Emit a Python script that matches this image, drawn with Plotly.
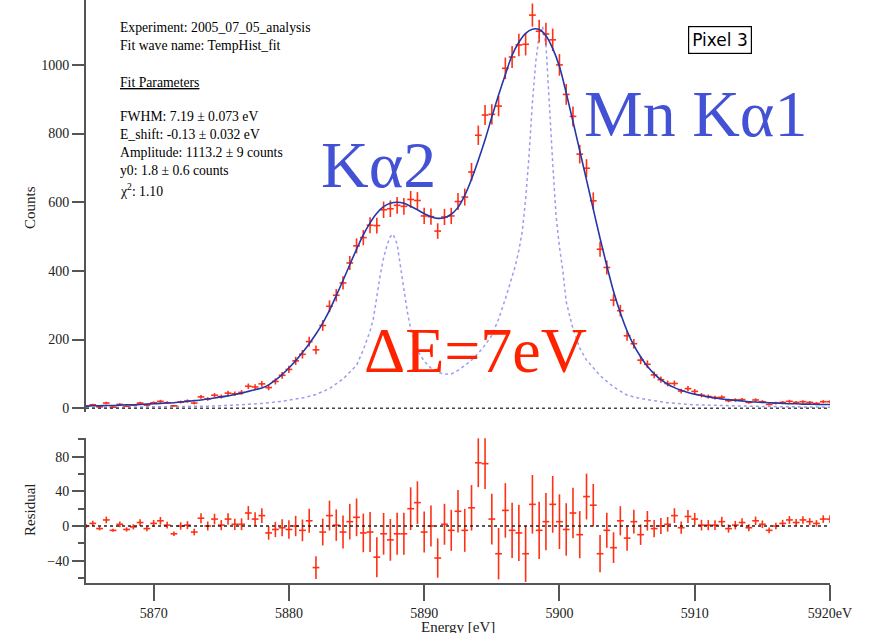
import numpy as np
import plotly.graph_objects as go

# ---------------- data ----------------
energy = np.arange(5865.0, 5920.01, 0.5)  # 0.5 eV bin centres

counts = [6, 10, 4, 15, 3, 11, 6, 9, 15, 9,
          16, 20, 16, 7, 18, 21, 15, 33, 27, 38,
          34, 44, 42, 46, 64, 62, 71, 60, 78, 96,
          113, 138, 157, 194, 170, 241, 297, 329, 365, 423,
          473, 497, 533, 532, 578, 581, 591, 588, 608, 605,
          560, 558, 516, 557, 560, 602, 615, 688, 795, 854,
          856, 880, 990, 1023, 1058, 1060, 1145, 1098, 1090, 1073,
          1000, 914, 850, 740, 699, 604, 463, 410, 315, 284,
          211, 188, 140, 128, 97, 83, 72, 72, 50, 57,
          49, 38, 34, 31, 32, 22, 24, 25, 17, 24,
          19, 11, 15, 17, 20, 17, 19, 17, 14, 19, 19]

fit = [6, 7, 7, 8, 8, 9, 10, 10, 11, 12,
       13, 14, 15, 16, 18, 20, 22, 24, 27, 30,
       33, 36, 40, 44, 49, 54, 59, 68, 82, 98,
       117, 138, 162, 188, 216, 248, 285, 328, 372, 418,
       463, 505, 540, 568, 587, 597, 600, 597, 588, 578,
       567, 558, 553, 555, 565, 585, 620, 667, 722, 782,
       848, 912, 972, 1028, 1066, 1092, 1104, 1103, 1085, 1048,
       995, 918, 835, 750, 665, 580, 495, 415, 340, 278,
       225, 183, 150, 122, 100, 83, 70, 60, 52, 46,
       41, 37, 33, 30, 27, 25, 23, 21, 19, 18,
       17, 16, 15, 14, 13, 13, 12, 12, 11, 11, 11]

residual = [0, 3, -3, 7, -5, 2, -4, -1, 4, -3,
            3, 6, 1, -9, 0, 1, -7, 9, 0, 8,
            1, 8, 2, 2, 15, 8, 12, -8, -4, -2,
            -4, 0, -5, 6, -48, -7, 12, 1, -7, 5,
            10, -8, -7, -36, -9, -16, -9, -9, 20, 27,
            -7, 0, -37, 2, -5, 17, -5, 21, 73, 72,
            8, -32, 18, -5, -8, -32, 25, -5, 5, 25,
            5, -4, 15, -10, 34, 24, -32, -5, -25, 6,
            -14, 5, -10, 6, -3, 0, 2, 12, -2, 11,
            8, 1, 1, 1, 5, -3, 1, 4, -2, 6,
            2, -5, 0, 3, 7, 4, 7, 5, 3, 8, 8]

# intrinsic (unbroadened) line shape, dotted
intr_e = [5865.0, 5868.0, 5871.0, 5874.0, 5876.0, 5878.0, 5879.5, 5881.0, 5882.0, 5883.0,
          5884.0, 5884.5, 5885.0, 5885.5, 5886.0, 5886.25, 5886.5, 5886.75, 5887.0, 5887.25,
          5887.5, 5887.7, 5888.0, 5888.25, 5888.5, 5888.75, 5889.0, 5889.25, 5889.5, 5890.0,
          5890.5, 5891.0, 5891.5, 5892.0, 5892.5, 5893.0, 5893.5, 5894.0, 5894.5, 5895.0,
          5895.5, 5896.0, 5896.5, 5896.75, 5897.0, 5897.25, 5897.5, 5897.75, 5898.0, 5898.25,
          5898.5, 5898.75, 5899.0, 5899.25, 5899.5, 5899.75, 5900.0, 5900.25, 5900.5, 5900.75,
          5901.0, 5901.5, 5902.0, 5902.5, 5903.0, 5904.0, 5905.0, 5906.0, 5907.0, 5908.0,
          5910.0, 5912.5, 5915.0, 5920.0]
intr_c = [2, 3, 4, 6, 9, 14, 20, 30, 40, 57,
          85, 105, 125, 170, 225, 262, 330, 388, 438, 475,
          500, 507, 478, 412, 342, 282, 232, 196, 168, 137,
          117, 105, 99, 100, 110, 124, 140, 160, 184, 212,
          260, 318, 385, 416, 460, 514, 610, 735, 890, 1010,
          1085, 1112, 1060, 870, 715, 560, 470, 400, 310, 270,
          232, 175, 140, 118, 95, 62, 38, 28, 21, 16,
          10, 7, 5, 3]

x_ticks = [5870, 5880, 5890, 5900, 5910, 5920]
x_ticktext = ["5870", "5880", "5890", "5900", "5910", "5920eV"]
y_ticks = [0, 200, 400, 600, 800, 1000]
r_ticks = [-40, 0, 40, 80]
r_minor = [-60, -20, 20, 60, 100]

info_lines = ["Experiment: 2005_07_05_analysis",
              "Fit wave name: TempHist_fit",
              "<u>Fit Parameters</u>",
              "FWHM: 7.19 ± 0.073 eV",
              "E_shift: -0.13 ± 0.032 eV",
              "Amplitude: 1113.2 ± 9 counts",
              "y0: 1.8 ± 0.6 counts",
              "χ<sup>2</sup>: 1.10"]
info_y = [27, 45, 82, 117, 134, 152, 170, 190]

# ---------------- styles ----------------
W, H = 872, 633
ML, MR, MT, MB = 86, 42, 0, 50
PW, PH = W - ML - MR, H - MT - MB
SERIF = "Liberation Serif"
RED = "#ff3014"
BLUE = "#2536a8"
LAV = "#9c9cf0"
AX = "#555555"


def px(x):
    return (x - ML) / PW


def py(y):
    return (H - MB - y) / PH


counts_a = np.array(counts, dtype=float)
err = np.sqrt(np.maximum(counts_a, 0))

fig = go.Figure()

fig.add_trace(go.Scatter(x=intr_e, y=intr_c, mode="lines",
                         line=dict(color=LAV, width=1.5, dash="dot"),
                         xaxis="x", yaxis="y", hoverinfo="skip"))
fig.add_trace(go.Scatter(x=energy, y=counts, mode="markers",
                         marker=dict(size=1, color=RED),
                         error_x=dict(type="constant", value=0.25, color=RED, thickness=1.6, width=0),
                         error_y=dict(type="data", array=err, color=RED, thickness=1.6, width=0),
                         xaxis="x", yaxis="y"))
fig.add_trace(go.Scatter(x=energy, y=fit, mode="lines", line=dict(color=BLUE, width=1.6, shape="spline"),
                         xaxis="x", yaxis="y"))
fig.add_trace(go.Scatter(x=energy, y=residual, mode="markers",
                         marker=dict(size=1, color=RED),
                         error_x=dict(type="constant", value=0.25, color=RED, thickness=1.6, width=0),
                         error_y=dict(type="data", array=err, color=RED, thickness=1.6, width=0),
                         xaxis="x2", yaxis="y2"))

tickfont = dict(family=SERIF, size=14, color="#222")

fig.update_layout(
    width=W, height=H, showlegend=False,
    margin=dict(l=ML, r=MR, t=MT, b=MB),
    paper_bgcolor="white", plot_bgcolor="white",
    xaxis=dict(domain=[0, 1], anchor="y", range=[5865, 5920], visible=False, showgrid=False),
    yaxis=dict(domain=[py(412), 1], anchor="x", range=[-11, 1189], showgrid=False, zeroline=False,
               showline=True, linecolor=AX, linewidth=2, ticks="outside", ticklen=12,
               tickwidth=1.5, tickcolor=AX, tickvals=y_ticks, tickfont=tickfont),
    xaxis2=dict(domain=[0, 1], anchor="y2", range=[5865, 5920], showgrid=False, zeroline=False,
                showline=True, linecolor=AX, linewidth=2, ticks="outside", ticklen=16,
                tickwidth=1.5, tickcolor=AX, tickvals=x_ticks, ticktext=x_ticktext, tickfont=tickfont),
    yaxis2=dict(domain=[0, py(438)], anchor="x2", range=[-65.8, 101.6], showgrid=False, zeroline=False,
                showline=True, linecolor=AX, linewidth=2, ticks="outside", ticklen=12,
                tickwidth=1.5, tickcolor=AX, tickvals=r_ticks, tickfont=tickfont,
                minor=dict(tickvals=r_minor, ticks="outside", ticklen=6, tickwidth=1.5, tickcolor=AX)),
)

# dotted zero lines
fig.add_shape(type="line", xref="x", yref="y", x0=5865, x1=5920, y0=0, y1=0,
              line=dict(color="#444", width=1.5, dash="dot"))
fig.add_shape(type="line", xref="x2", yref="y2", x0=5865, x1=5920, y0=0, y1=0,
              line=dict(color="#222", width=1.5, dash="dot"))

ann = []
# axis titles
ann.append(dict(text="Counts", x=px(30), y=py(208), textangle=-90, font=dict(family=SERIF, size=15, color="#222")))
ann.append(dict(text="Residual", x=px(30), y=py(510), textangle=-90, font=dict(family=SERIF, size=15, color="#222")))
ann.append(dict(text="Energy [eV]", x=px(458), y=py(627), font=dict(family=SERIF, size=15, color="#222")))
# info text
for t, yy in zip(info_lines, info_y):
    ann.append(dict(text=t, x=px(118), y=py(yy), xanchor="left",
                    font=dict(family=SERIF, size=13.7, color="black")))
# pixel label
ann.append(dict(text="Pixel 3", x=px(720), y=py(40), font=dict(family="DejaVu Sans", size=17, color="black"),
                bordercolor="black", borderwidth=1.2, borderpad=3, bgcolor="white"))
# big labels
ann.append(dict(text="Kα2", x=px(378), y=py(164), font=dict(family=SERIF, size=66, color="#4352d4")))
ann.append(dict(text="Mn Kα1", x=px(695), y=py(113), font=dict(family=SERIF, size=66, color="#4352d4")))
ann.append(dict(text="ΔE=7eV", x=px(475), y=py(350), font=dict(family=SERIF, size=64, color="#ff2200")))

for a in ann:
    a.setdefault("xanchor", "center")
    a.setdefault("yanchor", "middle")
    a.update(xref="paper", yref="paper", showarrow=False)
fig.update_layout(annotations=ann)

fig.write_html("out.html")
